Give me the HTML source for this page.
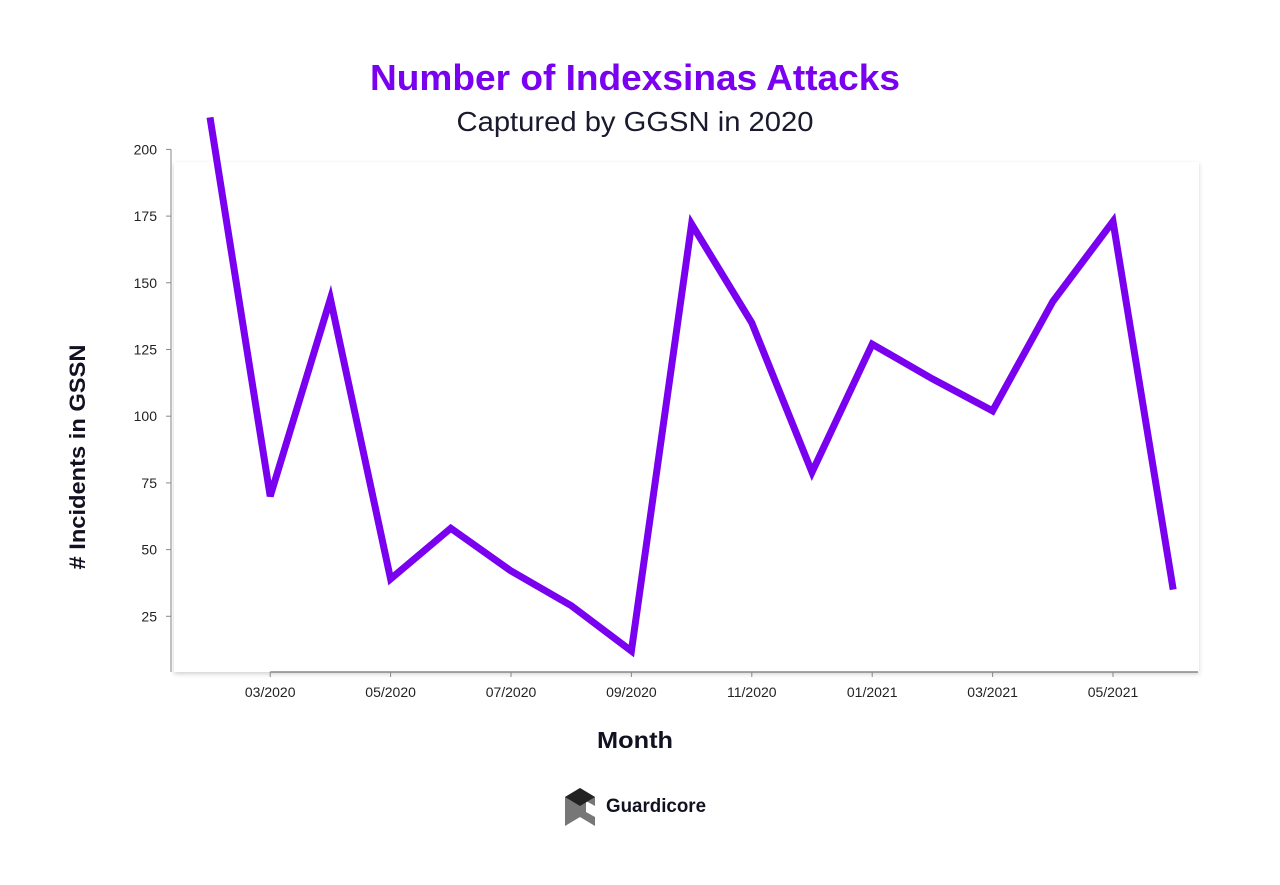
<!DOCTYPE html>
<html><head><meta charset="utf-8"><style>
body{margin:0;background:#fff;width:1280px;height:880px;overflow:hidden;font-family:"Liberation Sans",sans-serif}
</style></head><body>
<svg width="1280" height="880">
<defs><filter id="sh" x="-5%" y="-5%" width="110%" height="110%"><feDropShadow dx="0" dy="2" stdDeviation="2" flood-color="#000" flood-opacity="0.18"/></filter></defs>
<text x="635" y="90" text-anchor="middle" font-size="36" font-weight="bold" fill="#7a00f0" textLength="530" lengthAdjust="spacingAndGlyphs">Number of Indexsinas Attacks</text>
<text x="635" y="131" text-anchor="middle" font-size="28" fill="#1a1a2e" textLength="357" lengthAdjust="spacingAndGlyphs">Captured by GGSN in 2020</text>
<rect x="174" y="162" width="1025" height="510" fill="#fff" filter="url(#sh)"/>
<g id="yaxis"></g>
<g id="xaxis"></g>
<path id="line" fill="none" stroke="#7a00f0" stroke-width="7" stroke-linejoin="miter"/>
<text x="0" y="0" transform="translate(85,457) rotate(-90)" text-anchor="middle" font-size="22" font-weight="bold" fill="#111122" textLength="225" lengthAdjust="spacingAndGlyphs"># Incidents in GSSN</text>
<text x="635" y="748" text-anchor="middle" font-size="23" font-weight="bold" fill="#111122" textLength="76" lengthAdjust="spacingAndGlyphs">Month</text>
<g>
<polygon points="580,788 595,797 595,806 586,801 586,812 595,817 595,826 580,817 565,826 565,797" fill="#777"/>
<polygon points="565,797 580,788 595,797 580,806" fill="#222"/>
<text x="606" y="812" font-size="19" font-weight="bold" fill="#111122" textLength="100" lengthAdjust="spacingAndGlyphs">Guardicore</text>
</g>
</svg>
<script>
const months=["02/2020","03/2020","04/2020","05/2020","06/2020","07/2020","08/2020","09/2020","10/2020","11/2020","12/2020","01/2021","02/2021","03/2021","04/2021","05/2021","06/2021"];
const values=[212,70,144,39,58,42,29,12,172,135,79,127,114,102,143,173,35];
const yTicks=[25,50,75,100,125,150,175,200];
const xTickLabels=["03/2020","05/2020","07/2020","09/2020","11/2020","01/2021","03/2021","05/2021"];
const NS="http://www.w3.org/2000/svg";
function xs(i){return 210+i*60.2;}
function ys(v){return 683-v*2.668;}
function mk(t,a,p){const e=document.createElementNS(NS,t);for(const k in a)e.setAttribute(k,a[k]);p.appendChild(e);return e;}
const ya=document.getElementById('yaxis'),xa=document.getElementById('xaxis');
mk('line',{x1:171,y1:ys(200),x2:171,y2:672,stroke:'#888','stroke-width':1},ya);
yTicks.forEach(v=>{
 const l=mk('line',{x1:166,y1:ys(v),x2:171,y2:ys(v),stroke:'#888'},ya);
 
 
 const t=mk('text',{x:157,y:ys(v)+5,'text-anchor':'end','font-size':14,fill:'#222'},ya);
 t.textContent=v;
 
 
});
mk('line',{x1:xs(1),y1:672,x2:1198,y2:672,stroke:'#888','stroke-width':1.5},xa);
xTickLabels.forEach(lb=>{
 const i=months.indexOf(lb);
 const l=mk('line',{x1:xs(i),y1:672,x2:xs(i),y2:677,stroke:'#888'},xa);
 
 
 const t=mk('text',{x:xs(i),y:697,'text-anchor':'middle','font-size':14,fill:'#222'},xa);
 t.textContent=lb;
 
 
});
document.getElementById('line').setAttribute('d',values.map((v,i)=>(i?'L':'M')+xs(i)+','+ys(v)).join(' '));
</script>
</body></html>
